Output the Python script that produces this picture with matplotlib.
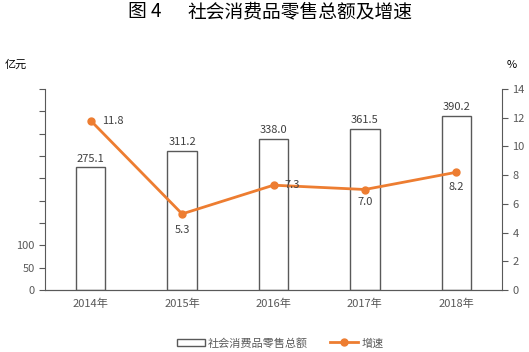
import matplotlib.pyplot as plt
import numpy as np

plt.rcParams['font.family'] = ['Noto Sans CJK SC', 'DejaVu Sans']

years = ['2014年', '2015年', '2016年', '2017年', '2018年']
sales = [275.1, 311.2, 338.0, 361.5, 390.2]
growth = [11.8, 5.3, 7.3, 7.0, 8.2]

x = np.arange(len(years))
grey = '#595959'

fig = plt.figure(figsize=(5.29, 3.52), dpi=100)
ax = fig.add_axes([45 / 529, 1 - 290 / 352, (502 - 45) / 529, (290 - 89) / 352])
ax2 = ax.twinx()

ax.bar(x, sales, width=0.32, color='white', edgecolor=grey, linewidth=1.0,
       label='社会消费品零售总额', zorder=2)
for xi, v in zip(x, sales):
    ax.text(xi, v + 8, f'{v:.1f}', ha='center', va='bottom', fontsize=8, color='#404040')

ax.set_xlim(-0.5, 4.5)
ax.set_ylim(0, 450)
ax.set_yticks(np.arange(0, 451, 50))
ax.set_yticklabels(['0', '50', '100'] + [''] * 7)
ax.set_xticks(x)
ax.set_xticklabels(years)

ax2.plot(x, growth, color='#ED7D31', linewidth=2, marker='o', markersize=5,
         label='增速', zorder=3)
ax2.set_ylim(0, 14)
ax2.set_yticks(np.arange(0, 15, 2))

offsets = [(0.12, 0, 'left', 'center'), (0, -0.8, 'center', 'top'),
           (0.12, 0, 'left', 'center'), (0, -0.5, 'center', 'top'),
           (0, -0.7, 'center', 'top')]
for xi, v, (dx, dy, ha, va) in zip(x, growth, offsets):
    ax2.text(xi + dx, v + dy, f'{v:.1f}', ha=ha, va=va, fontsize=8, color='#404040')

for a in (ax, ax2):
    a.spines['top'].set_visible(False)
    for s in a.spines.values():
        s.set_color(grey)
    a.tick_params(labelsize=8, colors='#595959')
ax.spines['right'].set_visible(False)
ax2.spines['left'].set_visible(False)
ax.tick_params(axis='x', length=0, pad=6)
ax.tick_params(axis='y', length=4, color=grey)
ax2.tick_params(axis='y', length=4, color=grey)

fig.text(145 / 529, 1 - 12 / 352, '图 4', ha='center', va='center', fontsize=13.5)
fig.text(300 / 529, 1 - 12 / 352, '社会消费品零售总额及增速', ha='center', va='center',
         fontsize=13.5)
fig.text(5 / 529, 1 - 65 / 352, '亿元', ha='left', va='center', fontsize=8)
fig.text(507 / 529, 1 - 65 / 352, '%', ha='left', va='center', fontsize=8)

h1, l1 = ax.get_legend_handles_labels()
h2, l2 = ax2.get_legend_handles_labels()
fig.legend(h1 + h2, l1 + l2, loc='center', bbox_to_anchor=(0.53, 1 - 343 / 352), ncol=2,
           frameon=False, fontsize=8, handlelength=2.5, columnspacing=2,
           handletextpad=0.3, labelcolor='#595959')

fig.savefig('out.png', dpi=100)
